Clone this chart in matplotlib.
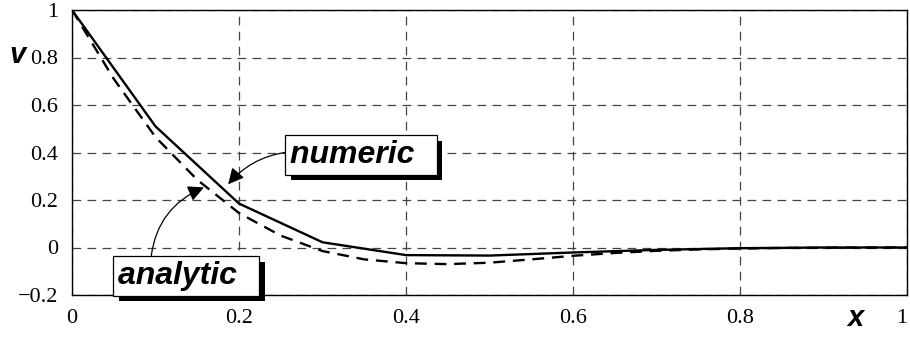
import matplotlib
matplotlib.use('Agg')
from matplotlib import pyplot as plt
import matplotlib.patheffects as pe

# numeric solution (coarse grid, h = 0.1)
x_num = [0.0, 0.1, 0.2, 0.3, 0.4, 0.5, 0.6, 0.7, 0.8, 0.9, 1.0]
v_num = [1.0, 0.51, 0.185, 0.022, -0.032, -0.034, -0.021, -0.01, -0.003, 0.0, 0.0]

# analytic solution
x_ana = [0.0, 0.05, 0.1, 0.15, 0.2, 0.25, 0.3, 0.35, 0.4, 0.45, 0.5,
         0.55, 0.6, 0.65, 0.7, 0.75, 0.8, 0.85, 0.9, 0.95, 1.0]
v_ana = [1.0, 0.71, 0.465, 0.285, 0.145, 0.05, -0.015, -0.05, -0.066, -0.07, -0.064,
         -0.05, -0.035, -0.023, -0.014, -0.008, -0.004, -0.002, -0.001, 0.0, 0.0]

x_ticks = [0, 0.2, 0.4, 0.6, 0.8, 1]
x_tick_labels = ['0', '0.2', '0.4', '0.6', '0.8', '1']
y_ticks = [-0.2, 0, 0.2, 0.4, 0.6, 0.8, 1]
y_tick_labels = ['\u22120.2', '0', '0.2', '0.4', '0.6', '0.8', '1']

serif = 'Liberation Serif'
label_font = dict(family='Liberation Sans', weight='bold', style='italic')

fig = plt.figure(figsize=(9.1, 3.38), dpi=100)
ax = fig.add_axes([72 / 910, 43 / 338, 835 / 910, 285 / 338])

ax.plot(x_num, v_num, color='k', lw=1.7, solid_joinstyle='miter')
ax.plot(x_ana, v_ana, color='k', lw=1.7, linestyle=(0, (5, 3.3)))

ax.set_xlim(0, 1)
ax.set_ylim(-0.2, 1)
ax.set_xticks(x_ticks)
ax.set_xticklabels(x_tick_labels, fontfamily=serif, fontsize=16)
ax.set_yticks(y_ticks)
ax.set_yticklabels(y_tick_labels, fontfamily=serif, fontsize=16)
ax.tick_params(length=0, pad=10)
# last label sits on the figure edge, keep it just inside
ax.get_xticklabels()[-1].set_horizontalalignment('right')
ax.grid(True, color='#444444', lw=0.9, linestyle=(0, (7, 5)))
for s in ax.spines.values():
    s.set_linewidth(1.0)

fig.text(855 / 910, 1 - 318 / 338, 'x', fontsize=21, ha='center', va='center', **label_font)
fig.text(18 / 910, 1 - 55 / 338, 'v', fontsize=21, ha='center', va='center', **label_font)

shadow = [pe.SimplePatchShadow(offset=(4, -4), shadow_rgbFace='k', alpha=1.0), pe.Normal()]
box = dict(boxstyle='square,pad=0.15', fc='white', ec='k', lw=0.9)

a1 = ax.annotate('numeric  ', xy=(0.187, 0.266), xytext=(0.261, 0.39),
                 ha='left', va='center', fontsize=23, bbox=box, **label_font,
                 arrowprops=dict(arrowstyle='-|>', color='k', lw=0.9, mutation_scale=24,
                                 shrinkA=0, shrinkB=0, relpos=(0, 0.6),
                                 connectionstyle='arc3,rad=0.2'))
a2 = ax.annotate('analytic  ', xy=(0.158, 0.253), xytext=(0.055, -0.12),
                 ha='left', va='center', fontsize=23, bbox=box, **label_font,
                 arrowprops=dict(arrowstyle='-|>', color='k', lw=0.9, mutation_scale=24,
                                 shrinkA=0, shrinkB=0, relpos=(0.24, 1),
                                 connectionstyle='arc3,rad=-0.3'))
for a in (a1, a2):
    a.get_bbox_patch().set_path_effects(shadow)

fig.savefig('out.png', dpi=100)
